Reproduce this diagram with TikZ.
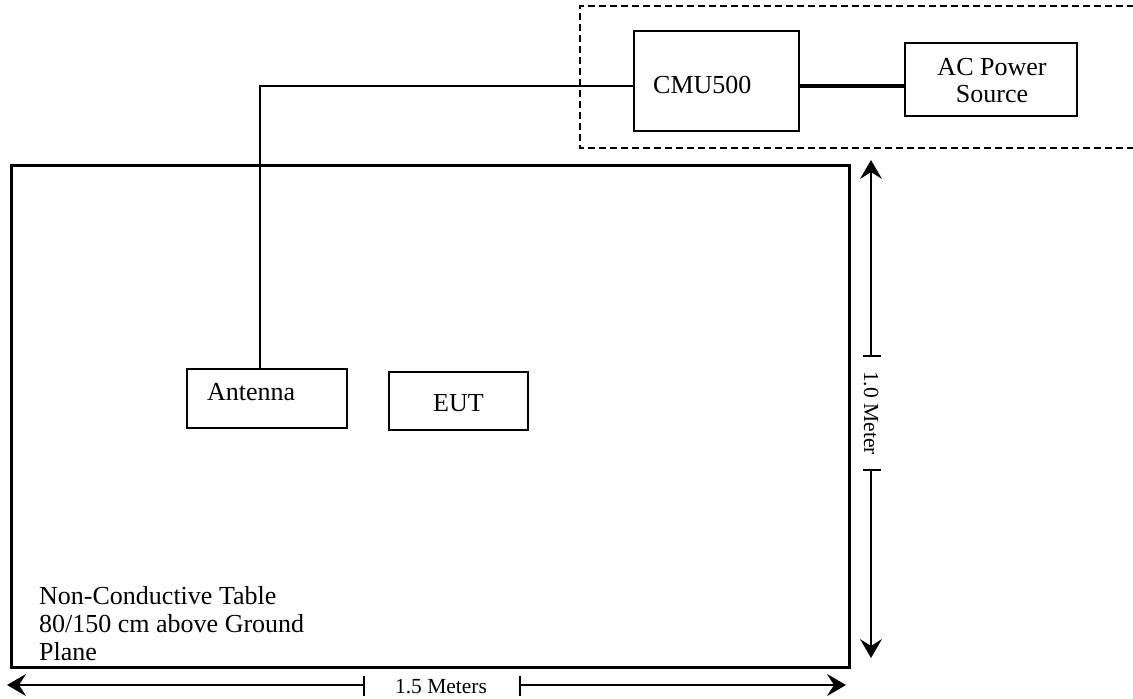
\documentclass[tikz,border=0pt]{standalone}
\usepackage{fontspec}
\setmainfont{Liberation Serif}
\usetikzlibrary{arrows.meta}
\tikzset{
  box/.style={draw, line width=1.4pt, inner sep=0pt},
  lbl/.style={inner sep=0pt, font=\fontsize{26}{28}\selectfont},
  small/.style={inner sep=0pt, font=\fontsize{21.5}{24}\selectfont},
  wire/.style={line width=1.1pt},
  pwr/.style={line width=3.2pt},
  dim/.style={line width=1.3pt},
  dimarrow/.style={dim, -{Stealth[length=19pt,width=22pt,inset=7pt]}},
  bar/.style={line width=1.5pt}
}
\begin{document}
\begin{tikzpicture}[x=1pt,y=-1pt]
\useasboundingbox (0,0) rectangle (1133,699);
% dashed enclosure
\draw[line width=1.4pt, dash pattern=on 7pt off 4pt] (1145,6) -- (580,6) -- (580,148) -- (1145,148);
% table
\node[draw, line width=3pt, minimum width=838pt, minimum height=502pt, inner sep=0pt] (table) at (430,416) {};
% boxes
\node[box, minimum width=165pt, minimum height=100pt] (cmu) at (716.5,81) {};
\node[lbl, anchor=base west] (cmut) at (653,93) {CMU500};
\node[box, minimum width=172pt, minimum height=73pt] (ac) at (991,79.5) {};
\node[lbl, anchor=base] (act1) at (992,75) {AC Power};
\node[lbl, anchor=base] (act2) at (992,102) {Source};
\node[box, minimum width=160pt, minimum height=59pt] (ant) at (267,398.5) {};
\node[lbl, anchor=base west] (antt) at (207,400) {Antenna};
\node[box, minimum width=139pt, minimum height=58pt] (eut) at (458.5,401) {};
\node[lbl, anchor=base] (eutt) at (458.5,411) {EUT};
% connectors
\coordinate (j) at (260,86);
\draw[wire] ([yshift=-2pt]ant.north -| j) -- (j) -- (j -| cmu.west);
\draw[pwr] (cmu.east |- j) -- (j -| ac.west);
% table text
\node[lbl, anchor=base west] (tt1) at (39,604) {Non-Conductive Table};
\node[lbl, anchor=base west] (tt2) at (39,632) {80/150 cm above Ground};
\node[lbl, anchor=base west] (tt3) at (39,660) {Plane};
% vertical dimension
\coordinate (vt) at (871,160);
\coordinate (vb1) at (871,356);
\coordinate (vb2) at (871,470);
\coordinate (vb) at (871,658);
\draw[dimarrow] (vb1) -- (vt);
\draw[dimarrow] (vb2) -- (vb);
\draw[bar] ([xshift=-8pt]vb1) -- ([xshift=10pt]vb1);
\draw[bar] ([xshift=-8pt]vb2) -- ([xshift=10pt]vb2);
\node[small, rotate=-90] (vlab) at (871,413) {1.0 Meter};
% horizontal dimension
\coordinate (hl) at (7,685);
\coordinate (hb1) at (364,685);
\coordinate (hb2) at (520,685);
\coordinate (hr) at (846,685);
\draw[dimarrow] (hb1) -- (hl);
\draw[dimarrow] (hb2) -- (hr);
\draw[bar] ([yshift=-11pt]hb1) -- ([yshift=9pt]hb1);
\draw[bar] ([yshift=-11pt]hb2) -- ([yshift=9pt]hb2);
\node[small, anchor=base] (hlab) at (441,693) {1.5 Meters};
\end{tikzpicture}
\end{document}
